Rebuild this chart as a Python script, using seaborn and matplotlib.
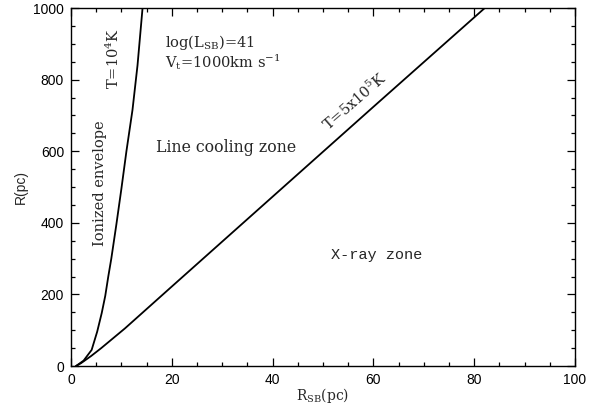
import matplotlib
matplotlib.use("Agg")
import matplotlib.pyplot as plt
from matplotlib.ticker import MultipleLocator
import seaborn as sns
import pandas as pd

# T = 1e4 K boundary
cool_rsb = [1.0, 2.5, 4.1, 5.2, 6.1, 6.8, 7.4, 8.0, 9.0, 10.0, 11.0, 12.2, 13.2, 14.2]
cool_r = [0, 15, 45, 96, 148, 196, 250, 300, 395, 495, 600, 715, 840, 1000]
# T = 5e5 K boundary
hot_rsb = [1.0, 2.0, 4.0, 6.0, 10.7, 20.0, 40.0, 60.0, 82.1]
hot_r = [0, 8, 28, 50, 105, 222, 473, 724, 1000]

x_ticks = [0, 20, 40, 60, 80, 100]
y_ticks = [0, 200, 400, 600, 800, 1000]

sns.set_style("ticks")
plt.rcParams['font.family'] = ['Liberation Sans', 'DejaVu Sans']
plt.rcParams['mathtext.fontset'] = 'dejavuserif'

fig = plt.figure(figsize=(5.95, 4.07), dpi=100)
ax = fig.add_axes([0.1193, 0.1007, 0.8471, 0.8796])

df1 = pd.DataFrame({"x": cool_rsb, "y": cool_r})
df2 = pd.DataFrame({"x": hot_rsb, "y": hot_r})
sns.lineplot(data=df1, x="x", y="y", ax=ax, color="black", lw=1.3, sort=False)
sns.lineplot(data=df2, x="x", y="y", ax=ax, color="black", lw=1.3, sort=False)

ax.set_xlim(0, 100)
ax.set_ylim(0, 1000)
ax.set_xticks(x_ticks)
ax.set_yticks(y_ticks)
ax.xaxis.set_minor_locator(MultipleLocator(5))
ax.yaxis.set_minor_locator(MultipleLocator(50))
ax.tick_params(which="both", direction="in", top=True, right=True, labelsize=10, width=0.9, colors="black")
ax.tick_params(which="major", length=6, pad=5)
ax.tick_params(which="minor", length=3)
for s in ax.spines.values():
    s.set_linewidth(1.0)
    s.set_color("black")

serif = "DejaVu Serif"
ax.set_xlabel(r"R$_{\mathrm{SB}}$(pc)", family=serif, fontsize=10, labelpad=-1)
ax.set_ylabel("R(pc)", fontsize=10)

ax.text(18.7, 905, r"log(L$_{\mathrm{SB}}$)=41", family=serif, fontsize=10.5, ha="left", va="center")
ax.text(18.7, 849, r"V$_{\mathrm{t}}$=1000km s$^{-1}$", family=serif, fontsize=10.5, ha="left", va="center")
ax.text(8.4, 860, r"T=10$^{4}$K", family=serif, fontsize=10.5, rotation=90, ha="center", va="center")
ax.text(5.8, 511, "Ionized envelope", family=serif, fontsize=10.5, rotation=90, ha="center", va="center")
ax.text(30.8, 609, "Line cooling zone", family=serif, fontsize=11.3, ha="center", va="center")
ax.text(60.7, 310, "X-ray zone", family="Liberation Mono", fontsize=11, ha="center", va="center")
ax.text(56.2, 740, r"T=5x10$^{5}$K", family=serif, fontsize=10.5, rotation=41, ha="center", va="center")

fig.savefig("out.png", dpi=100)
